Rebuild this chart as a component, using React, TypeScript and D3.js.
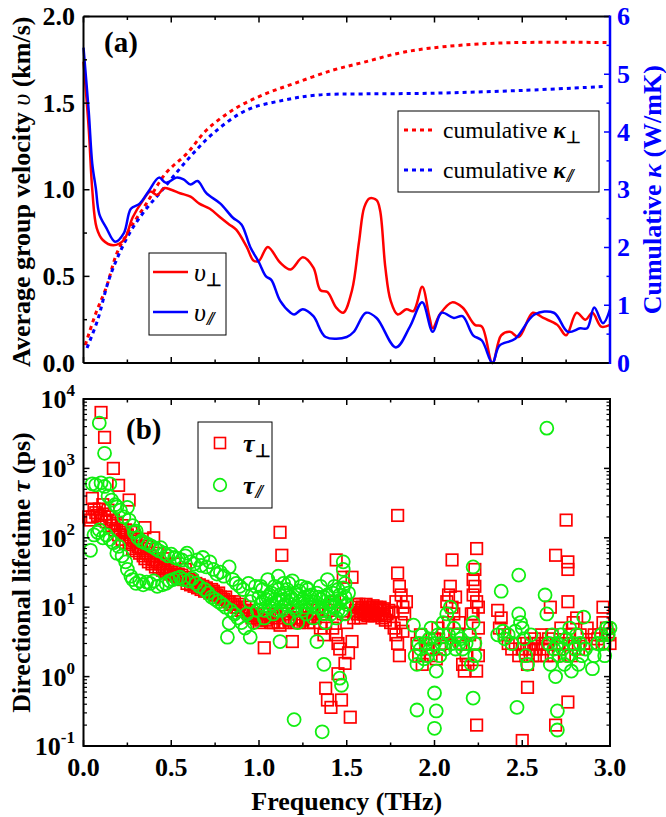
import React from "react";
import * as d3 from "d3";

// ---------- Panel (a) data ----------
const vPerpF = [0.0,0.03,0.05,0.075,0.11,0.17,0.23,0.28,0.34,0.38,0.42,0.46,0.50,0.55,0.61,0.66,0.72,0.78,0.83,0.87,0.93,0.97,1.00,1.05,1.12,1.18,1.25,1.31,1.35,1.39,1.44,1.48,1.53,1.57,1.60,1.63,1.67,1.69,1.72,1.75,1.79,1.84,1.88,1.93,1.97,1.99,2.03,2.10,2.16,2.23,2.27,2.33,2.38,2.43,2.48,2.56,2.62,2.70,2.75,2.81,2.86,2.90,2.95,3.00];
const vPerpV = [1.74,1.35,1.0,0.78,0.71,0.68,0.71,0.84,0.94,0.99,0.97,1.01,1.00,0.98,0.96,0.92,0.89,0.84,0.80,0.77,0.67,0.59,0.59,0.67,0.58,0.54,0.61,0.55,0.42,0.41,0.32,0.29,0.42,0.70,0.90,0.95,0.94,0.88,0.55,0.36,0.28,0.31,0.30,0.44,0.27,0.20,0.28,0.35,0.32,0.22,0.21,0.0,0.16,0.18,0.15,0.29,0.26,0.22,0.16,0.29,0.25,0.29,0.21,0.22];

const vParF = [0.0,0.03,0.05,0.07,0.09,0.13,0.18,0.23,0.27,0.32,0.37,0.43,0.47,0.53,0.57,0.61,0.65,0.70,0.78,0.85,0.90,0.95,1.00,1.04,1.07,1.12,1.18,1.20,1.25,1.31,1.38,1.50,1.54,1.61,1.67,1.78,1.86,1.93,1.99,2.04,2.11,2.16,2.22,2.27,2.33,2.37,2.46,2.57,2.68,2.76,2.83,2.87,2.91,2.96,3.00];
const vParV = [1.82,1.45,1.15,1.01,0.86,0.78,0.70,0.75,0.89,0.92,0.99,1.07,1.04,1.07,1.06,1.03,1.05,0.98,0.92,0.84,0.80,0.67,0.58,0.50,0.48,0.36,0.29,0.28,0.31,0.27,0.15,0.15,0.18,0.29,0.26,0.09,0.21,0.35,0.18,0.29,0.26,0.27,0.16,0.13,0.0,0.10,0.14,0.28,0.29,0.18,0.20,0.20,0.32,0.23,0.31];

const kPerpF = [0.01,0.07,0.13,0.19,0.26,0.36,0.47,0.59,0.70,0.85,1.02,1.20,1.42,1.60,1.79,1.97,2.36,2.98];
const kPerpV = [0.31,0.86,1.31,1.90,2.30,2.77,3.29,3.63,4.03,4.38,4.64,4.84,5.07,5.21,5.36,5.45,5.54,5.55];
const kParF = [0.02,0.08,0.15,0.25,0.34,0.45,0.59,0.74,0.93,1.14,1.33,1.60,1.97,2.50,2.98];
const kParV = [0.26,0.74,1.49,2.18,2.60,3.00,3.51,3.98,4.38,4.55,4.64,4.66,4.67,4.72,4.79];

// ---------- Panel (b) data: [frequency THz, lifetime ps] ----------
const tauPerp: [number, number][] = [
[0.03,200],[0.04,180],[0.05,370],[0.05,200],[0.06,260],[0.07,230],[0.08,210],[0.09,260],[0.10,6400],[0.10,190],[0.11,300],[0.12,2800],[0.12,220],[0.13,170],[0.14,250],[0.15,200],[0.16,150],[0.17,1000],[0.17,180],[0.18,130],[0.19,160],[0.20,570],[0.20,110],[0.21,130],[0.22,95],[0.22,150],[0.23,120],[0.24,85],[0.24,130],[0.25,110],[0.26,350],[0.26,80],[0.27,100],[0.27,120],[0.28,70],[0.29,90],[0.30,65],[0.30,95],[0.31,75],[0.32,60],[0.33,70],[0.33,85],[0.34,55],[0.35,140],[0.35,50],[0.36,60],[0.36,75],[0.37,45],[0.38,55],[0.39,42],[0.40,100],[0.40,48],[0.41,38],[0.42,45],[0.42,60],[0.43,36],[0.44,42],[0.45,34],[0.46,38],[0.46,50],[0.47,32],[0.48,36],[0.49,30],[0.50,34],[0.51,29],[0.52,32],[0.52,42],[0.53,28],[0.54,30],[0.55,26],[0.56,29],[0.57,25],[0.58,27],[0.58,35],[0.59,22],[0.60,25],[0.61,21],[0.62,24],[0.63,20],[0.64,22],[0.65,19],[0.66,21],[0.67,18],[0.68,20],[0.69,17],[0.70,19],[0.71,17],[0.72,16],[0.73,18],[0.74,17],[0.75,15],[0.76,15],[0.77,16],[0.78,14],[0.79,13],[0.80,13],[0.81,14],[0.82,12],[0.83,12],[0.84,11],[0.85,11],[0.86,12],[0.87,10],[0.88,10],[0.89,11],[0.90,9],[0.91,9],[0.92,10],[0.93,9],[0.94,8],[0.95,8],[0.96,7],[0.97,7.5],[0.98,8],[0.99,7],[1.00,6],[1.01,6.5],[1.02,7],[1.03,2.6],[1.04,6.5],[1.05,7],[1.06,8],[1.07,6],[1.08,6],[1.09,7.5],[1.10,7],[1.11,6],[1.12,120],[1.13,56],[1.12,5.5],[1.14,8],[1.15,6],[1.16,9],[1.17,6.5],[1.18,7],[1.19,3.2],[1.20,6],[1.21,7],[1.22,8],[1.23,6],[1.24,7],[1.25,6.5],[1.26,9],[1.27,7],[1.28,6],[1.29,7],[1.30,8],[1.31,6],[1.32,7],[1.33,9],[1.34,10],[1.35,5],[1.36,8],[1.37,4],[1.38,0.68],[1.38,6],[1.39,0.46],[1.40,9],[1.41,0.36],[1.42,5],[1.43,12],[1.44,48],[1.44,4],[1.45,3],[1.45,1.1],[1.46,2.5],[1.47,0.46],[1.48,27],[1.48,8],[1.49,1.55],[1.50,6],[1.51,2.2],[1.52,0.26],[1.53,3.2],[1.53,27],[1.54,7],[1.55,9],[1.555,11],[1.56,8],[1.565,10],[1.57,11],[1.575,8.5],[1.58,7],[1.585,9.5],[1.59,10],[1.595,8],[1.60,8],[1.605,9],[1.61,11],[1.615,8.5],[1.62,7.5],[1.625,9],[1.63,10],[1.635,8],[1.64,8],[1.645,9.5],[1.65,10.5],[1.655,8.5],[1.66,7.5],[1.665,9],[1.67,10],[1.675,8],[1.68,8],[1.685,9.5],[1.69,10],[1.695,8],[1.70,7],[1.705,9],[1.71,9.5],[1.715,7.5],[1.72,6.5],[1.73,8],[1.74,9],[1.75,6],[1.76,8.5],[1.77,5],[1.78,12],[1.78,4],[1.79,210],[1.79,31],[1.79,3],[1.80,20],[1.80,2],[1.81,15],[1.81,6],[1.82,10],[1.82,4.5],[1.83,8],[1.84,12],
[1.90,3],[1.91,2],[1.92,4],[1.93,1.5],[1.95,3],[1.96,2.5],[1.98,2],[2.00,3.5],[2.01,1.8],[2.02,5],[2.03,2.5],[2.05,4],[2.06,3],[2.07,12],[2.08,15],[2.08,6],[2.09,20],[2.10,48],[2.10,10],[2.11,8],[2.12,14],[2.13,4],[2.14,6],[2.15,3],[2.16,1.5],[2.17,1.2],[2.18,2],[2.19,1.5],[2.20,4],[2.21,8],[2.22,15],[2.22,25],[2.23,35],[2.23,3],[2.24,70],[2.24,0.2],[2.24,1.2],[2.25,10],[2.25,5],[2.25,2],[2.23,20],[2.24,12],[2.22,8],
[2.36,9],[2.37,5],[2.38,7],[2.40,4],[2.42,3],[2.44,2.5],[2.46,3],[2.48,2],[2.50,0.12],[2.50,2.5],[2.51,3],[2.52,2],[2.53,0.7],[2.53,1.5],[2.54,2.5],[2.55,3],[2.56,2],[2.57,3.5],[2.58,2.5],[2.59,3],[2.60,2],[2.61,4],[2.62,2.5],[2.63,3],[2.64,2],[2.65,3.5],[2.66,10],[2.67,4],[2.68,2],[2.69,56],[2.69,0.2],[2.70,3],[2.71,2.5],[2.72,5],[2.73,3],[2.74,2],[2.75,180],[2.76,45],[2.76,35],[2.76,0.43],[2.76,12],[2.77,4],[2.78,2],[2.79,6],[2.80,3],[2.81,7],[2.82,2.5],[2.83,4],[2.85,3],[2.87,5],[2.89,3],[2.91,4],[2.93,3.5],[2.95,4],[2.96,10],[2.96,6],[2.97,3],[2.98,5],[2.99,4],[3.00,3]
];

const tauPar: [number, number][] = [
[0.04,66],[0.05,600],[0.06,110],[0.07,580],[0.08,120],[0.09,4500],[0.09,130],[0.10,620],[0.11,100],[0.12,1650],[0.12,550],[0.13,110],[0.14,400],[0.15,600],[0.15,95],[0.16,350],[0.17,85],[0.18,300],[0.19,60],[0.19,280],[0.20,75],[0.21,250],[0.22,55],[0.23,200],[0.24,45],[0.25,275],[0.25,35],[0.26,180],[0.27,28],[0.28,150],[0.28,25],[0.29,120],[0.30,125],[0.30,22],[0.31,100],[0.32,24],[0.33,90],[0.34,21],[0.35,85],[0.36,23],[0.37,80],[0.38,22],[0.39,75],[0.40,24],[0.41,70],[0.42,20],[0.43,65],[0.44,72],[0.45,21],[0.46,60],[0.47,22],[0.48,55],[0.49,24],[0.50,58],[0.51,25],[0.52,52],[0.53,26],[0.54,50],[0.55,27],[0.56,48],[0.57,25],[0.58,55],[0.59,60],[0.60,24],[0.61,45],[0.62,26],[0.63,42],[0.64,22],[0.65,48],[0.66,20],[0.67,40],[0.68,52],[0.69,18],[0.70,38],[0.71,16],[0.72,45],[0.73,14],[0.74,35],[0.75,13],[0.76,30],[0.77,12],[0.78,32],[0.79,11],[0.80,28],[0.81,10],[0.82,3.7],[0.83,5.9],[0.83,38],[0.84,9],[0.85,25],[0.86,8],[0.87,22],[0.88,7],[0.89,20],[0.90,6],[0.91,18],[0.92,5],[0.93,8],[0.94,22],[0.95,3.7],[0.95,12],[0.96,15],[0.97,6],[0.98,20],[0.99,9],[1.00,14],[1.01,11],[1.02,18],[1.03,7],[1.04,13],[1.05,25],[1.06,10],[1.07,16],[1.08,8],[1.09,20],[1.10,12],[1.11,28],[1.12,3.2],[1.12,15],[1.13,9],[1.14,22],[1.15,11],[1.16,18],[1.17,7],[1.18,14],[1.19,24],[1.20,0.24],[1.20,10],[1.21,16],[1.22,6],[1.23,12],[1.24,20],[1.25,9],[1.26,14],[1.27,8],[1.28,18],[1.29,11],[1.30,15],[1.31,7],[1.32,12],[1.33,3.2],[1.34,10],[1.35,20],[1.36,0.16],[1.36,9],[1.37,1.5],[1.37,14],[1.38,6],[1.39,25],[1.40,11],[1.41,8],[1.42,16],[1.43,10],[1.44,7],[1.45,18],[1.46,0.95],[1.46,12],[1.47,0.75],[1.47,9],[1.48,45],[1.48,35],[1.48,19],[1.49,14],[1.49,8],[1.50,11],[1.51,16],
[1.02,12],[1.06,15],[1.10,9],[1.14,13],[1.18,11],[1.22,15],[1.26,10],[1.30,12],[1.34,14],[1.38,10],[1.42,12],[1.46,15],
[1.01,20],[1.03,9],[1.05,14],[1.07,11],[1.09,13],[1.11,18],[1.13,12],[1.15,16],[1.17,22],[1.19,13],[1.21,9],[1.23,17],[1.25,13],[1.27,19],[1.29,14],[1.31,10],[1.33,16],[1.35,13],[1.37,8],[1.39,15],[1.41,12],[1.43,20],[1.45,9],[1.47,13],[1.49,22],
[1.88,5.5],[1.89,2],[1.90,0.33],[1.90,1.5],[1.91,3],[1.92,2.5],[1.93,4],[1.94,1.8],[1.95,3],[1.96,2],[1.97,3.5],[1.98,5],[1.99,2.5],[2.00,0.58],[2.00,0.18],[2.01,0.32],[2.00,3],[2.01,1.2],[2.02,4],[2.03,2],[2.04,3],[2.05,6],[2.06,2.5],[2.07,8],[2.08,4],[2.09,10],[2.10,3],[2.11,5],[2.12,2.5],[2.13,4],[2.14,3],[2.15,3.5],[2.16,2.5],[2.18,3],[2.20,4],[2.21,1.5],[2.22,38],[2.22,0.49],[2.22,6],[2.23,2],[2.23,3],
[2.36,4],[2.38,17],[2.39,4.5],[2.40,3.5],[2.42,4],[2.44,3],[2.46,4.5],[2.47,0.36],[2.48,29],[2.48,8],[2.49,6],[2.50,5],[2.51,3.5],[2.52,2],[2.53,1.5],[2.55,4],
[2.63,15],[2.64,3800],[2.64,8],[2.65,3],[2.66,1.5],[2.67,4],[2.68,2.5],[2.69,1],[2.70,0.32],[2.70,0.17],[2.70,3],[2.71,2],[2.72,4],[2.73,2.5],[2.74,1.5],[2.75,3.5],[2.76,2],[2.77,5],[2.78,1.2],[2.79,3],[2.80,2.5],[2.81,4],[2.82,1.5],[2.83,3],[2.84,2],[2.85,7.2],[2.86,2.5],[2.90,1.3],[2.91,2],[2.93,3],[2.95,4],[2.96,3],[2.97,2],[2.98,5],[2.99,4],[3.00,5]
];

// ---------- Tick values ----------
const xTickLabels = ["0.0","0.5","1.0","1.5","2.0","2.5","3.0"];
const xTicks = [0,0.5,1.0,1.5,2.0,2.5,3.0];
const vTicks = [0,0.5,1.0,1.5,2.0];
const vTickLabels = ["0.0","0.5","1.0","1.5","2.0"];
const kTicks = [0,1,2,3,4,5,6];
const logExps = [-1,0,1,2,3,4];

const FONT = "Liberation Serif, Times New Roman, Times, serif";
const RED = "#ff0000";
const BLUE = "#0000ff";
const GREEN = "#11ee11";

export default function App() {
  const W = 666, H = 817;
  const xL = 83.5, xR = 610;
  const aTop = 16.5, aBot = 363;
  const bTop = 399, bBot = 746;

  const x = d3.scaleLinear().domain([0, 3]).range([xL, xR]);
  const yA = d3.scaleLinear().domain([0, 2]).range([aBot, aTop]);
  const yK = d3.scaleLinear().domain([0, 6]).range([aBot, aTop]);
  const yB = d3.scaleLog().domain([0.1, 10000]).range([bBot, bTop]);

  const mkLine = (fs: number[], vs: number[], ys: d3.ScaleLinear<number, number>) =>
    d3.line<number>().x((_, i) => x(fs[i])).y((_, i) => ys(vs[i])).curve(d3.curveCatmullRom.alpha(0.5))(fs) || "";

  const minorX = d3.range(0, 3.001, 0.25);
  const minorV = d3.range(0, 2.001, 0.25);
  const minorK = d3.range(0, 6.001, 0.5);
  const minorLog: number[] = [];
  for (let e = -1; e < 4; e++) for (let m = 2; m <= 9; m++) minorLog.push(m * Math.pow(10, e));

  const tickSize = 6, minorSize = 3.5;
  const axisW = 2;
  const sq = 11.5;
  const ts = { fontFamily: FONT };

  return (
    <svg width={W} height={H} style={{ position: "absolute", left: 0, top: 0, background: "#fff", fontFamily: FONT }}>
      {/* ===== Panel (a) ===== */}
      <g>
        <path d={mkLine(kPerpF, kPerpV, yK)} fill="none" stroke={RED} strokeWidth={3} strokeDasharray="4,4" />
        <path d={mkLine(kParF, kParV, yK)} fill="none" stroke={BLUE} strokeWidth={3} strokeDasharray="4,4" />
        <path d={mkLine(vPerpF, vPerpV, yA)} fill="none" stroke={RED} strokeWidth={2.5} />
        <path d={mkLine(vParF, vParV, yA)} fill="none" stroke={BLUE} strokeWidth={2.5} />

        {minorX.map((t, i) => {
          const major = Math.abs(t * 2 - Math.round(t * 2)) < 1e-6;
          const s = major ? tickSize : minorSize;
          return (
            <g key={"axt" + i} stroke="#000" strokeWidth={1.5}>
              <line x1={x(t)} x2={x(t)} y1={aBot} y2={aBot - s} />
              <line x1={x(t)} x2={x(t)} y1={aTop} y2={aTop + s} />
            </g>
          );
        })}
        {minorV.map((t, i) => {
          const major = Math.abs(t * 2 - Math.round(t * 2)) < 1e-6;
          const s = major ? tickSize : minorSize;
          return <line key={"avt" + i} x1={xL} x2={xL + s} y1={yA(t)} y2={yA(t)} stroke="#000" strokeWidth={1.5} />;
        })}
        {minorK.map((t, i) => {
          const major = Math.abs(t - Math.round(t)) < 1e-6;
          const s = major ? tickSize : minorSize;
          return <line key={"akt" + i} x1={xR} x2={xR - s} y1={yK(t)} y2={yK(t)} stroke={BLUE} strokeWidth={1.5} />;
        })}
        <line x1={xL} x2={xR} y1={aTop} y2={aTop} stroke="#000" strokeWidth={axisW} />
        <line x1={xL} x2={xR} y1={aBot} y2={aBot} stroke="#000" strokeWidth={axisW} />
        <line x1={xL} x2={xL} y1={aTop} y2={aBot} stroke="#000" strokeWidth={axisW} />
        <line x1={xR} x2={xR} y1={aTop - 1} y2={aBot + 1} stroke={BLUE} strokeWidth={axisW + 0.5} />

        {vTicks.map((t, i) => (
          <text key={"avl" + i} style={ts} x={75} y={yA(t) + 8.5} textAnchor="end" fontSize={26} fontWeight="bold">{vTickLabels[i]}</text>
        ))}
        {kTicks.map((t, i) => (
          <text key={"akl" + i} style={ts} x={617} y={yK(t) + 8.5} textAnchor="start" fontSize={26} fontWeight="bold" fill={BLUE}>{t}</text>
        ))}

        <text style={ts} transform={`translate(30,${(aTop + aBot) / 2 + 2}) rotate(-90)`} textAnchor="middle" fontSize={26} fontWeight="bold">
          Average group velocity <tspan fontStyle="italic" fontWeight="normal">υ</tspan> (km/s)
        </text>
        <text style={ts} transform={`translate(661,${(aTop + aBot) / 2}) rotate(-90)`} textAnchor="middle" fontSize={26} fontWeight="bold" fill={BLUE}>
          Cumulative <tspan fontStyle="italic">κ</tspan> (W/mK)
        </text>

        <text style={ts} x={104} y={52} fontSize={29} fontWeight="bold">(a)</text>

        <rect x={149} y={253} width={77} height={82} fill="#fff" stroke="#000" strokeWidth={1} />
        <line x1={153} x2={188} y1={272} y2={272} stroke={RED} strokeWidth={2.5} />
        <line x1={153} x2={188} y1={312} y2={312} stroke={BLUE} strokeWidth={2.5} />
        <text style={ts} x={194} y={281} fontSize={26} fontStyle="italic">υ<tspan fontSize={18} dy={5} fontStyle="normal" fontWeight="bold">⊥</tspan></text>
        <text style={ts} x={194} y={321} fontSize={26} fontStyle="italic">υ<tspan fontSize={19} dy={4} dx={1} fontWeight="bold" fontStyle="italic" letterSpacing={-3}>//</tspan></text>

        <rect x={398} y={111} width={201} height={81} fill="#fff" stroke="#000" strokeWidth={1} />
        <line x1={404} x2={434} y1={130} y2={130} stroke={RED} strokeWidth={3} strokeDasharray="4,4" />
        <line x1={404} x2={434} y1={170} y2={170} stroke={BLUE} strokeWidth={3} strokeDasharray="4,4" />
        <text style={ts} x={443} y={138} fontSize={23.5}>cumulative <tspan fontStyle="italic" fontWeight="bold">κ</tspan><tspan fontSize={17} dy={5} fontWeight="bold">⊥</tspan></text>
        <text style={ts} x={443} y={178} fontSize={23.5}>cumulative <tspan fontStyle="italic" fontWeight="bold">κ</tspan><tspan fontSize={18} dy={4} dx={1} fontWeight="bold" fontStyle="italic" letterSpacing={-3}>//</tspan></text>
      </g>

      {/* ===== Panel (b) ===== */}
      <g>
        <defs>
          <clipPath id="clipB">
            <rect x={xL - 8} y={bTop - 8} width={xR - xL + 16} height={bBot - bTop + 16} />
          </clipPath>
        </defs>
        <g clipPath="url(#clipB)">
          {tauPerp.map((d, i) => (
            <rect key={"sq" + i} x={x(d[0]) - sq / 2} y={yB(d[1]) - sq / 2} width={sq} height={sq} fill="none" stroke={RED} strokeWidth={1.7} />
          ))}
          {tauPar.map((d, i) => (
            <circle key={"ci" + i} cx={x(d[0])} cy={yB(d[1])} r={6.5} fill="none" stroke={GREEN} strokeWidth={1.8} />
          ))}
        </g>

        {minorX.map((t, i) => {
          const major = Math.abs(t * 2 - Math.round(t * 2)) < 1e-6;
          const s = major ? tickSize : minorSize;
          return (
            <g key={"bxt" + i} stroke="#000" strokeWidth={1.5}>
              <line x1={x(t)} x2={x(t)} y1={bBot} y2={bBot - s} />
              <line x1={x(t)} x2={x(t)} y1={bTop} y2={bTop + s} />
            </g>
          );
        })}
        {logExps.map((e, i) => (
          <g key={"blt" + i} stroke="#000" strokeWidth={1.5}>
            <line x1={xL} x2={xL + tickSize} y1={yB(Math.pow(10, e))} y2={yB(Math.pow(10, e))} />
            <line x1={xR} x2={xR - tickSize} y1={yB(Math.pow(10, e))} y2={yB(Math.pow(10, e))} />
          </g>
        ))}
        {minorLog.map((v, i) => (
          <g key={"bmt" + i} stroke="#000" strokeWidth={1.2}>
            <line x1={xL} x2={xL + minorSize} y1={yB(v)} y2={yB(v)} />
            <line x1={xR} x2={xR - minorSize} y1={yB(v)} y2={yB(v)} />
          </g>
        ))}
        <rect x={xL} y={bTop} width={xR - xL} height={bBot - bTop} fill="none" stroke="#000" strokeWidth={axisW} />

        {logExps.map((e, i) => (
          <text key={"bll" + i} style={ts} x={75} y={yB(Math.pow(10, e)) + 9} textAnchor="end" fontSize={26} fontWeight="bold">
            10<tspan fontSize={17} dy={-12}>{e < 0 ? "-" + Math.abs(e) : String(e)}</tspan>
          </text>
        ))}
        {xTicks.map((t, i) => (
          <text key={"bxl" + i} style={ts} x={x(t)} y={776} textAnchor="middle" fontSize={26} fontWeight="bold">{xTickLabels[i]}</text>
        ))}

        <text style={ts} x={(xL + xR) / 2} y={810} textAnchor="middle" fontSize={26} fontWeight="bold">Frequency (THz)</text>
        <text style={ts} transform={`translate(30,${(bTop + bBot) / 2}) rotate(-90)`} textAnchor="middle" fontSize={26} fontWeight="bold">
          Directional lifetime <tspan fontStyle="italic">τ</tspan> (ps)
        </text>

        <text style={ts} x={126} y={439} fontSize={29} fontWeight="bold">(b)</text>

        <rect x={198} y={422} width={74} height={86} fill="#fff" stroke="#000" strokeWidth={1} />
        <rect x={220 - 5.5} y={443 - 5.5} width={11} height={11} fill="none" stroke={RED} strokeWidth={1.6} />
        <circle cx={220} cy={485} r={6.3} fill="none" stroke={GREEN} strokeWidth={1.7} />
        <text style={ts} x={243} y={452} fontSize={26} fontWeight="bold" fontStyle="italic">τ<tspan fontSize={18} dy={5} fontStyle="normal">⊥</tspan></text>
        <text style={ts} x={243} y={494} fontSize={26} fontWeight="bold" fontStyle="italic">τ<tspan fontSize={19} dy={4} dx={1} letterSpacing={-3}>//</tspan></text>
      </g>
    </svg>
  );
}
